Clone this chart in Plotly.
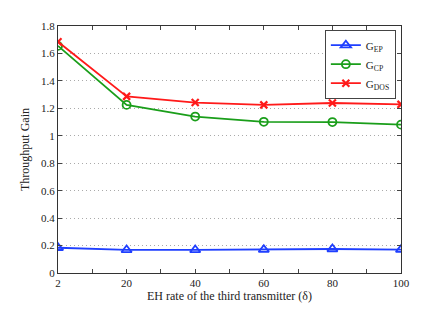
import plotly.graph_objects as go

x_labels = ["2", "20", "40", "60", "80", "100"]
g_ep = [0.184, 0.168, 0.168, 0.170, 0.175, 0.170]
g_cp = [1.655, 1.225, 1.140, 1.102, 1.100, 1.081]
g_dos = [1.685, 1.287, 1.242, 1.225, 1.239, 1.229]

xi = list(range(len(x_labels)))
font = "Liberation Serif, Times New Roman, serif"

fig = go.Figure()
fig.add_trace(go.Scatter(x=xi, y=g_ep, mode="lines+markers", name="G<sub>EP</sub>",
                         line=dict(color="#1f3fff", width=1.8),
                         marker=dict(symbol="triangle-up-open", size=9, color="#1f3fff", line=dict(width=1.8))))
fig.add_trace(go.Scatter(x=xi, y=g_cp, mode="lines+markers", name="G<sub>CP</sub>",
                         line=dict(color="#1a9e1a", width=1.8),
                         marker=dict(symbol="circle-open", size=8, color="#1a9e1a", line=dict(width=1.8))))
fig.add_trace(go.Scatter(x=xi, y=g_dos, mode="lines+markers", name="G<sub>DOS</sub>",
                         line=dict(color="#ff1a1a", width=1.8),
                         marker=dict(symbol="x-thin-open", size=7, color="#ff1a1a", line=dict(width=2.2, color="#ff1a1a"))))

# page body has a default 8px margin; compensate so the plot lands where the reference has it
fig.update_layout(
    width=435, height=304,
    margin=dict(l=50, r=42, t=15, b=35),
    paper_bgcolor="white", plot_bgcolor="white",
    font=dict(family=font, size=11, color="#222"),
    showlegend=True,
    legend=dict(x=0.985, y=0.985, xanchor="right", yanchor="top",
                bgcolor="white", bordercolor="#444", borderwidth=1,
                font=dict(family=font, size=11), tracegroupgap=0,
                itemwidth=30),
)
fig.update_xaxes(
    range=[0, 5], tickmode="array", tickvals=xi, ticktext=x_labels,
    ticks="inside", ticklen=4, tickcolor="#444", showgrid=False, zeroline=False,
    showline=True, linecolor="#333", linewidth=1, mirror="ticks",
    minor=dict(tickmode="array", tickvals=[0.5, 1.5, 2.5, 3.5, 4.5], ticks="inside", ticklen=4, tickcolor="#444"),
    title=dict(text="EH rate of the third transmitter (δ)", font=dict(family=font, size=12), standoff=2),
)
fig.update_yaxes(
    range=[0, 1.8], dtick=0.2, ticks="inside", ticklen=4, tickcolor="#444",
    showgrid=True, gridcolor="#aaa", griddash="1px,3px", gridwidth=1, zeroline=False,
    showline=True, linecolor="#333", linewidth=1, mirror="ticks",
    title=dict(text="Throughput Gain", font=dict(family=font, size=12), standoff=8),
)

fig.write_html("out.html")
